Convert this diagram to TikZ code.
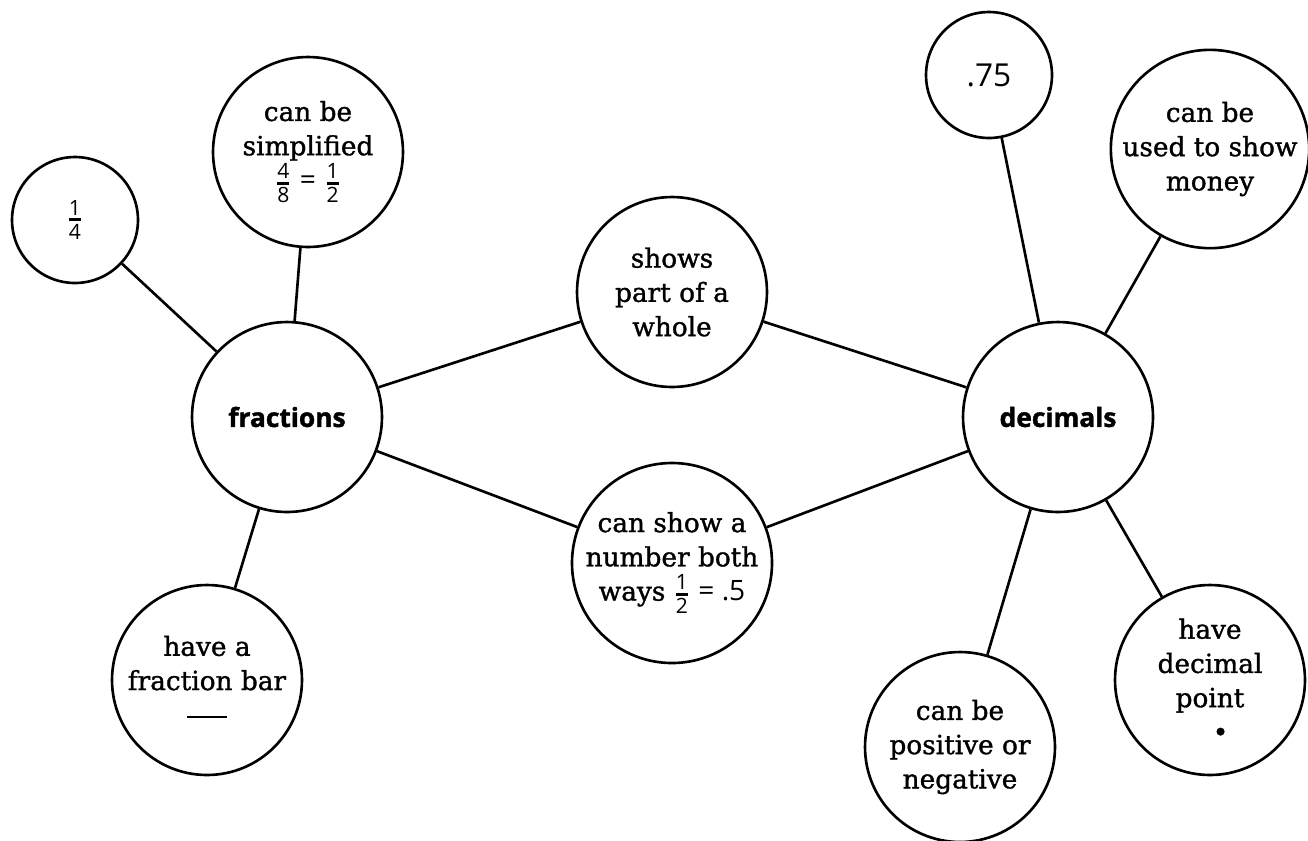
\documentclass[tikz,border=0pt]{standalone}
\usepackage{amsmath}
\usepackage{fontspec}
\setmainfont{DejaVu Serif}[FakeBold=1.2]
\newfontfamily\numfont{Open Sans}
\newfontfamily\hubfont{Open Sans}[FakeBold=1.5]
\usetikzlibrary{positioning}
\tikzset{
  bubble/.style = {circle, draw=black, fill=white, align=center, inner sep=0pt,
  text centered, font=\fontsize{15}{19.5}\selectfont},
  big_b/.style = {bubble, minimum size=3.8cm},
  small_b/.style = {bubble, minimum size=2.52cm},
  hub_b/.style = {big_b, font=\hubfont\bfseries\fontsize{15}{19}\selectfont}
}
% small sans fractions with a heavy bar
\newcommand{\fr}[2]{\ensuremath{\genfrac{}{}{1.7pt}{}%
  {\hbox{\numfont\fontsize{12}{12}\selectfont #1}}%
  {\hbox{\numfont\fontsize{12}{12}\selectfont #2}}}}
\newcommand{\numtext}[1]{{\numfont\fontsize{16}{19.5}\selectfont #1}}

\begin{document}
\begin{tikzpicture}[x=0.02cm, y=-0.02cm, line width=1.5pt]
  \useasboundingbox (0,0) rectangle (1308,840);

  % the two main ideas
  \node [hub_b] (frac) at (287,417) {fractions};
  \node [hub_b] (dec) at (1058,417) {decimals};

  % shared facts
  \node [big_b] (whole) at (672,292) {shows\\part of a\\whole};
  \node [big_b] (both) at (672,563) {can show a\\number both\\ways \fr{1}{2} \numtext{= .5}};

  % fraction facts
  \node [small_b] (quarter) at (75,220) {\fr{1}{4}};
  \node [big_b] (simp) at (308,152) {can be\\simplified\\\fr{4}{8} \numtext{=} \fr{1}{2}};
  \node [big_b] (fbar) at (207,680) {have a\\fraction bar\\\rule[3.4pt]{0.8cm}{1.3pt}};

  % decimal facts
  \node [small_b] (seventyfive) at (989,75) {{\numfont\fontsize{18}{19}\selectfont .75}};
  \node [big_b] (money) at (1210,149) {can be\\used to show\\money};
  \node [big_b] (dpoint) at (1210,680) {have\\decimal\\point\\\hspace*{0.8em}•};
  \node [big_b] (sign) at (960,747) {can be\\positive or\\negative};

  \draw (quarter) -- (frac);
  \draw (simp) -- (frac);
  \draw (fbar) -- (frac);
  \draw (frac) -- (whole);
  \draw (frac) -- (both);
  \draw (whole) -- (dec);
  \draw (both) -- (dec);
  \draw (seventyfive) -- (dec);
  \draw (money) -- (dec);
  \draw (dpoint) -- (dec);
  \draw (sign) -- (dec);
\end{tikzpicture}
\end{document}
